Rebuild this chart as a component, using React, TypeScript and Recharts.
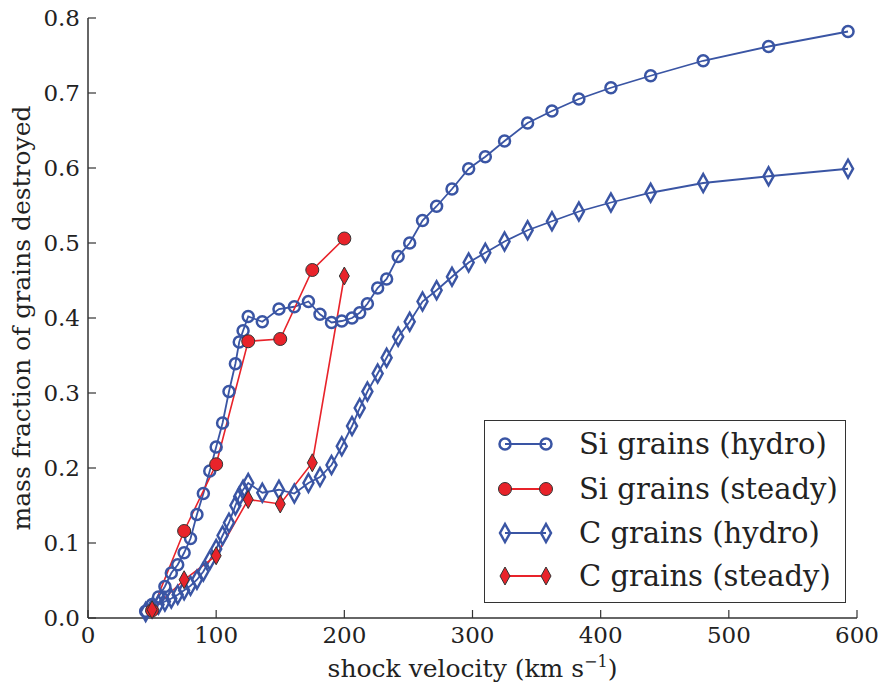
import React from "react";
import { LineChart, Line, XAxis, YAxis, Legend } from "recharts";

// hydro runs share one velocity grid (km/s)
const hydroVelocity = [
  45, 50, 55, 60, 65, 70, 75, 80, 85, 90, 95, 100, 105, 110, 115, 118, 121, 125,
  136, 149, 161, 172, 181, 190, 198, 206, 212, 218, 226, 233, 242, 251, 261, 272,
  284, 297, 310, 325, 343, 362, 383, 408, 439, 480, 531, 593,
];
const siHydro = [
  0.009, 0.018, 0.028, 0.042, 0.06, 0.071, 0.087, 0.106, 0.138, 0.166, 0.196, 0.228,
  0.26, 0.302, 0.339, 0.368, 0.383, 0.402, 0.395, 0.412, 0.415, 0.422, 0.405, 0.394,
  0.396, 0.4, 0.407, 0.419, 0.44, 0.452, 0.482, 0.5, 0.53, 0.549, 0.572, 0.599, 0.615,
  0.636, 0.66, 0.676, 0.692, 0.707, 0.723, 0.743, 0.762, 0.782,
];
const cHydro = [
  0.008, 0.013, 0.018, 0.022, 0.026, 0.031, 0.037, 0.043, 0.051, 0.062, 0.077, 0.092,
  0.11, 0.127, 0.15, 0.162, 0.171, 0.18, 0.167, 0.171, 0.166, 0.18, 0.188, 0.204,
  0.229, 0.256, 0.28, 0.302, 0.326, 0.347, 0.375, 0.395, 0.422, 0.437, 0.455, 0.474,
  0.487, 0.502, 0.517, 0.529, 0.542, 0.554, 0.567, 0.58, 0.589, 0.599,
];

const steadyVelocity = [50, 75, 100, 125, 150, 175, 200];
const siSteady = [0.01, 0.116, 0.205, 0.369, 0.372, 0.464, 0.506];
const cSteady = [0.011, 0.051, 0.083, 0.158, 0.152, 0.207, 0.456];

const xTicks = [0, 100, 200, 300, 400, 500, 600];
const yTicks = [0, 0.1, 0.2, 0.3, 0.4, 0.5, 0.6, 0.7, 0.8];

const legendNames = [
  "Si grains (hydro)",
  "Si grains (steady)",
  "C grains (hydro)",
  "C grains (steady)",
];

const BLUE = "#3a55a4";
const RED = "#e8232a";
const INK = "#222";
const FONT = "'DejaVu Serif', serif";

const toPoints = (xs: number[], ys: number[]) => xs.map((x, i) => ({ x, y: ys[i] }));

const siHydroData = toPoints(hydroVelocity, siHydro);
const cHydroData = toPoints(hydroVelocity, cHydro);
const siSteadyData = toPoints(steadyVelocity, siSteady);
const cSteadyData = toPoints(steadyVelocity, cSteady);

type Kind = "siHydro" | "siSteady" | "cHydro" | "cSteady";

function marker(kind: Kind, cx: number, cy: number, key?: string | number) {
  if (kind === "siHydro")
    return <circle key={key} cx={cx} cy={cy} r={5.5} fill="none" stroke={BLUE} strokeWidth={2.5} />;
  if (kind === "siSteady")
    return <circle key={key} cx={cx} cy={cy} r={6.5} fill={RED} stroke="#333" strokeWidth={1} />;
  const d = `M${cx},${cy - 9} L${cx + 5},${cy} L${cx},${cy + 9} L${cx - 5},${cy} Z`;
  if (kind === "cHydro")
    return <path key={key} d={d} fill="none" stroke={BLUE} strokeWidth={2.5} />;
  return <path key={key} d={d} fill={RED} stroke="#333" strokeWidth={1} />;
}

const dotFor = (kind: Kind) => (p: any) => {
  if (p.cx == null || p.cy == null) return <g key={`${kind}-${p.index}`} />;
  return marker(kind, p.cx, p.cy, `${kind}-${p.index}`);
};

const kinds: Kind[] = ["siHydro", "siSteady", "cHydro", "cSteady"];

function LegendBox() {
  const rows = [23, 68, 112, 155];
  return (
    <div
      style={{
        width: 362,
        height: 183,
        boxSizing: "border-box",
        border: "1.5px solid #333",
        background: "#fff",
      }}
    >
      <svg width={359} height={180} style={{ display: "block" }}>
        {kinds.map((k, i) => {
          const y = rows[i];
          const color = k.endsWith("Hydro") ? BLUE : RED;
          return (
            <g key={k}>
              <line x1={20} x2={61} y1={y} y2={y} stroke={color} strokeWidth={1.8} />
              {marker(k, 20, y)}
              {marker(k, 61, y)}
              <text x={94} y={y} dy="0.35em" fontSize={29} fill={INK} fontFamily={FONT}>
                {legendNames[i]}
              </text>
            </g>
          );
        })}
      </svg>
    </div>
  );
}

function XTitle(props: any) {
  const { viewBox } = props;
  const cx = viewBox.x + viewBox.width / 2;
  return (
    <text x={cx} y={viewBox.y + 59} textAnchor="middle" fontSize={25} fill={INK} fontFamily={FONT}>
      shock velocity (km s
      <tspan dy={-10} fontSize={16}>−1</tspan>
      <tspan dy={10}>)</tspan>
    </text>
  );
}

function YTitle(props: any) {
  const { viewBox } = props;
  const cy = viewBox.y + viewBox.height / 2;
  const x = 30;
  return (
    <text
      x={x}
      y={cy}
      transform={`rotate(-90, ${x}, ${cy})`}
      textAnchor="middle"
      fontSize={25}
      fill={INK}
      fontFamily={FONT}
    >
      mass fraction of grains destroyed
    </text>
  );
}

export default function App() {
  const tickStyle = { fontSize: 23, fill: INK, fontFamily: FONT };
  const axisLine = { stroke: "#333", strokeWidth: 1.5 };
  const tickLine = { stroke: "#333", strokeWidth: 1.2 };
  return (
    <div style={{ position: "absolute", left: 0, top: 0, background: "#fff" }}>
      <LineChart
        width={887}
        height={686}
        margin={{ top: 18, right: 30, bottom: 0, left: 0 }}
        style={{ fontFamily: FONT }}
      >
        <XAxis
          xAxisId="main"
          dataKey="x"
          type="number"
          domain={[0, 600]}
          ticks={xTicks}
          height={68}
          tickSize={-8}
          tickMargin={17}
          tick={tickStyle}
          axisLine={axisLine}
          tickLine={tickLine}
          label={<XTitle />}
          allowDuplicatedCategory={false}
        />
        <XAxis
          xAxisId="top"
          orientation="top"
          dataKey="x"
          type="number"
          domain={[0, 600]}
          ticks={xTicks}
          height={0}
          tickSize={-8}
          tick={false}
          axisLine={axisLine}
          tickLine={tickLine}
        />
        <YAxis
          yAxisId="main"
          type="number"
          domain={[0, 0.8]}
          ticks={yTicks}
          width={88}
          tickSize={-8}
          tickMargin={16}
          tick={tickStyle}
          tickFormatter={(v: number) => v.toFixed(1)}
          axisLine={axisLine}
          tickLine={tickLine}
          label={<YTitle />}
        />
        <YAxis
          yAxisId="right"
          orientation="right"
          type="number"
          domain={[0, 0.8]}
          ticks={yTicks}
          width={0}
          tickSize={-8}
          tick={false}
          axisLine={axisLine}
          tickLine={tickLine}
        />
        <Legend
          layout="vertical"
          align="center"
          verticalAlign="middle"
          wrapperStyle={{ left: 484, top: 420, width: 362, height: 183 }}
          content={() => <LegendBox />}
        />
        <Line
          xAxisId="main"
          yAxisId="main"
          data={siHydroData}
          dataKey="y"
          name={legendNames[0]}
          stroke={BLUE}
          strokeWidth={1.8}
          dot={dotFor("siHydro")}
          activeDot={false}
          isAnimationActive={false}
        />
        <Line
          xAxisId="main"
          yAxisId="main"
          data={cHydroData}
          dataKey="y"
          name={legendNames[2]}
          stroke={BLUE}
          strokeWidth={1.8}
          dot={dotFor("cHydro")}
          activeDot={false}
          isAnimationActive={false}
        />
        <Line
          xAxisId="main"
          yAxisId="main"
          data={siSteadyData}
          dataKey="y"
          name={legendNames[1]}
          stroke={RED}
          strokeWidth={1.6}
          dot={dotFor("siSteady")}
          activeDot={false}
          isAnimationActive={false}
        />
        <Line
          xAxisId="main"
          yAxisId="main"
          data={cSteadyData}
          dataKey="y"
          name={legendNames[3]}
          stroke={RED}
          strokeWidth={1.6}
          dot={dotFor("cSteady")}
          activeDot={false}
          isAnimationActive={false}
        />
      </LineChart>
    </div>
  );
}
